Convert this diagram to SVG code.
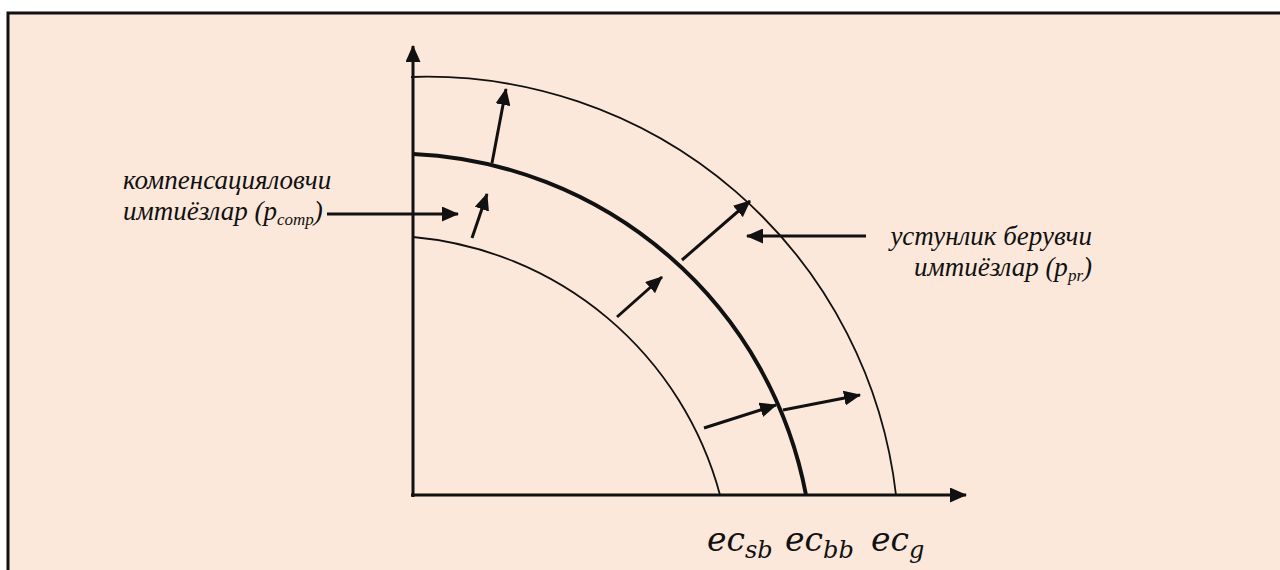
<svg xmlns="http://www.w3.org/2000/svg" width="1280" height="570" viewBox="0 0 1280 570">
  <defs>
    <style>
      .lbl { font-family: "Liberation Serif", "Times New Roman", serif; font-style: italic; font-size: 27px; fill: #111; }
      .sub { font-size: 17px; }
      .math { font-family: "DejaVu Serif", serif; font-style: italic; font-size: 33px; fill: #111; }
      .msub { font-size: 24px; }
      .arr { stroke: #111; stroke-width: 3; fill: none; marker-end: url(#ah); }
      .thin { stroke: #111; stroke-width: 1.8; fill: none; }
      .thick { stroke: #111; stroke-width: 4; fill: none; }
    </style>
    <marker id="ah" viewBox="0 0 17 15" refX="16" refY="7.5" markerWidth="17" markerHeight="15" markerUnits="userSpaceOnUse" orient="auto">
      <path d="M0,0 L17,7.5 L0,15 Z" fill="#111"/>
    </marker>
  </defs>

  <rect x="0" y="0" width="1280" height="570" fill="#ffffff"/>
  <rect x="8" y="13" width="1272" height="557" fill="#FBE8DA"/>
  <path d="M8,570 L8,13 L1280,13" stroke="#111" stroke-width="3" fill="none"/>

  <g id="axes">
    <line class="arr" x1="413" y1="497" x2="413" y2="46"/>
    <line class="arr" x1="411" y1="495" x2="966" y2="495"/>
  </g>

  <g id="curve-inner">
    <path class="thin" d="M413,237 A350,350 0 0 1 720,495"/>
  </g>
  <g id="curve-base">
    <path class="thick" d="M413,154 A419,419 0 0 1 806,495"/>
  </g>
  <g id="curve-outer">
    <path class="thin" d="M411,77 A472,472 0 0 1 896,495"/>
  </g>

  <g id="connectors">
    <line class="arr" x1="492" y1="163" x2="506" y2="89"/>
    <line class="arr" x1="472" y1="238" x2="487" y2="194"/>
    <line class="arr" x1="327" y1="214" x2="458" y2="214"/>
    <line class="arr" x1="617" y1="317" x2="662" y2="277"/>
    <line class="arr" x1="682" y1="260" x2="750" y2="201"/>
    <line class="arr" x1="866" y1="236" x2="747" y2="236"/>
    <line class="arr" x1="704" y1="428" x2="776" y2="405"/>
    <line class="arr" x1="783" y1="410" x2="860" y2="395"/>
  </g>

  <g id="label-comp">
    <text class="lbl" x="123" y="189">компенсацияловчи</text>
    <text class="lbl" x="123" y="220">имтиёзлар (p<tspan class="sub" dy="5">comp</tspan><tspan dy="-5">)</tspan></text>
  </g>

  <g id="label-pr">
    <text class="lbl" x="1092" y="245" text-anchor="end">устунлик берувчи</text>
    <text class="lbl" x="1092" y="276" text-anchor="end">имтиёзлар (p<tspan class="sub" dy="5">pr</tspan><tspan dy="-5">)</tspan></text>
  </g>

  <g id="axis-labels">
    <text class="math" x="707" y="551">ec<tspan class="msub" dy="7">sb</tspan></text>
    <text class="math" x="785" y="551">ec<tspan class="msub" dy="7">bb</tspan></text>
    <text class="math" x="871" y="551">ec<tspan class="msub" dy="7">g</tspan></text>
  </g>
</svg>
